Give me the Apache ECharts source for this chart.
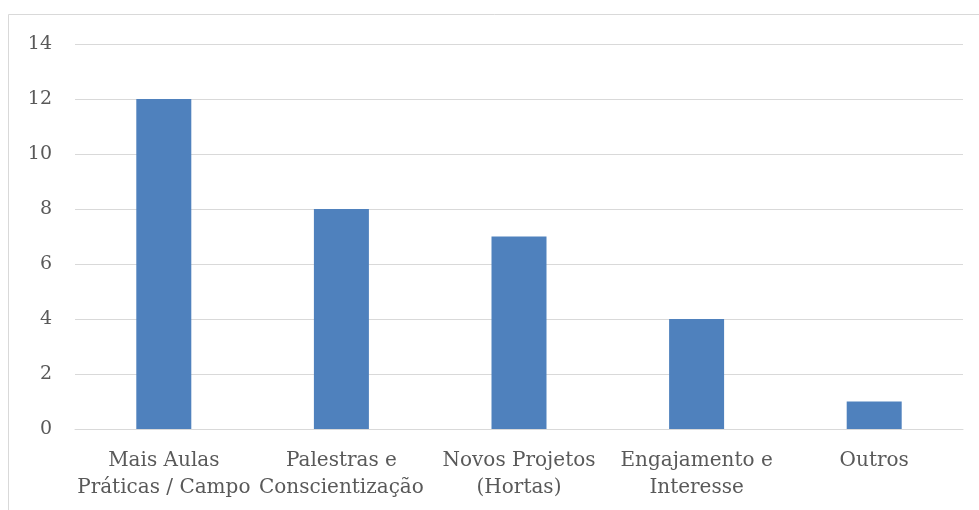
<!DOCTYPE html>
<html>
<head>
<meta charset="utf-8">
<script src="https://cdn.jsdelivr.net/npm/echarts@6/dist/echarts.min.js"></script>
<style>
  html, body { margin: 0; padding: 0; background: #fff; }
  #chart { width: 979px; height: 510px; }
</style>
</head>
<body>
<div id="chart"></div>
<script>
  // dados do gráfico
  const categories = [
    'Mais Aulas\nPráticas / Campo',
    'Palestras e\nConscientização',
    'Novos Projetos\n(Hortas)',
    'Engajamento e\nInteresse',
    'Outros'
  ]
  const values = [12, 8, 7, 4, 1]

  const font = 'DejaVu Serif'
  const textColor = '#595959'

  const chart = echarts.init(document.getElementById('chart'), null, { renderer: 'canvas' })

  chart.setOption({
    animation: false,
    backgroundColor: '#fff',
    graphic: [{
      type: 'rect',
      shape: { x: 8.5, y: 14.5, width: 1100, height: 600 },
      style: { fill: 'none', stroke: '#d9d9d9', lineWidth: 1 },
      silent: true
    }],
    grid: {
      left: 75,
      right: 16,
      top: 44,
      bottom: 81,
      containLabel: false
    },
    xAxis: {
      type: 'category',
      data: categories,
      axisTick: { show: false },
      axisLine: { lineStyle: { color: '#d9d9d9', width: 1 } },
      axisLabel: {
        interval: 0,
        color: textColor,
        fontFamily: font,
        fontSize: 20,
        lineHeight: 27,
        margin: 18
      }
    },
    yAxis: {
      type: 'value',
      min: 0,
      max: 14,
      interval: 2,
      axisLine: { show: false },
      axisTick: { show: false },
      splitLine: { lineStyle: { color: '#d9d9d9', width: 1 } },
      axisLabel: {
        color: textColor,
        fontFamily: font,
        fontSize: 19,
        margin: 23
      }
    },
    series: [{
      type: 'bar',
      data: values,
      barWidth: 55,
      itemStyle: { color: '#4f81bd' }
    }]
  })
</script>
</body>
</html>
